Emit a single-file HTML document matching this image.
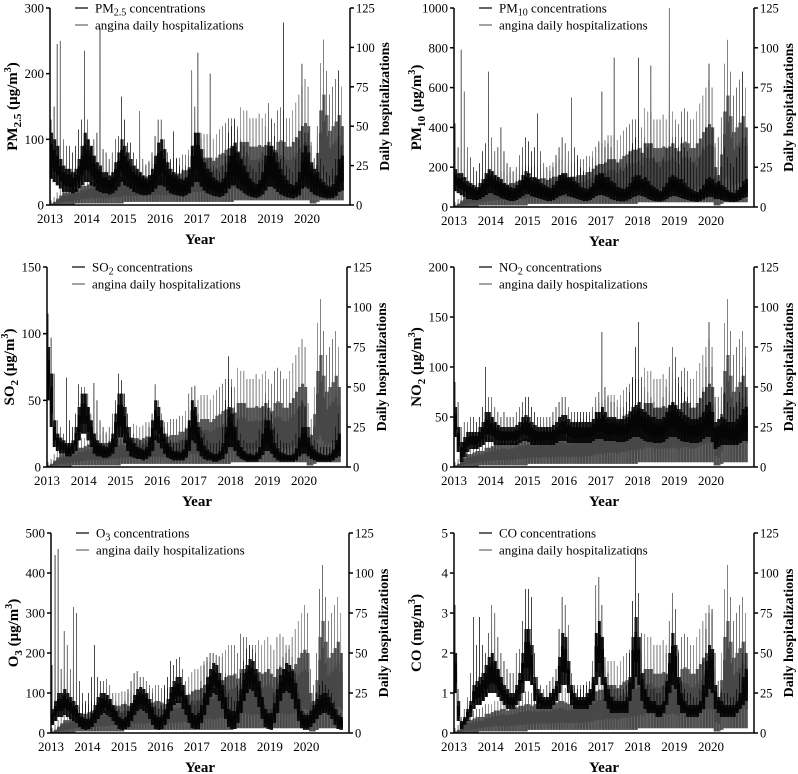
<!DOCTYPE html>
<html><head><meta charset="utf-8"><style>
body{margin:0;background:#fff;}
svg{display:block;font-family:"Liberation Serif",serif;}
</style></head><body>
<svg id="c" width="798" height="774" viewBox="0 0 798 774"></svg>
<script>
const years=["2013","2014","2015","2016","2017","2018","2019","2020"];
const hospTicks=[0,25,50,75,100,125];
// angina daily hospitalizations (monthly envelope: peak, typical upper, low)
const hospHi=[3,5,8,10,12,12,14,15,15,16,18,18, 18,20,20,22,22,20,22,22,24,25,25,26, 26,25,26,25,27,26,25,26,28,28,30,30, 28,27,28,28,30,30,30,32,32,35,38,40, 40,42,45,45,45,42,45,48,50,52,55,55, 55,50,62,60,60,55,55,55,58,55,58,60, 55,52,60,62,60,55,55,60,65,70,75,80, 75,40,30,50,90,105,85,70,75,80,85,75];
const hospTyp=[1,2,4,6,8,8,9,10,10,10,12,12, 13,14,14,15,15,14,15,15,16,17,17,18, 18,17,18,17,18,18,17,18,19,19,20,20, 19,18,19,19,20,20,20,22,22,24,26,27, 27,28,30,30,30,28,30,32,33,35,36,36, 37,34,40,40,40,37,37,37,38,37,38,40, 37,35,40,41,40,37,37,40,43,47,50,52, 50,25,20,33,60,70,57,47,50,53,57,50];
const hospLo=[0,0,0,0,0,0,0,0,1,1,1,1, 1,1,1,1,1,1,1,1,1,1,1,1, 2,2,2,2,2,2,2,2,2,2,2,2, 2,2,2,2,2,2,2,2,2,2,2,2, 2,2,2,2,2,2,2,2,2,2,2,2, 3,3,3,3,3,3,3,3,3,3,3,3, 3,3,3,3,3,3,3,3,3,3,3,3, 3,1,1,2,3,3,3,3,3,3,3,3];
// PM2.5
const pm25Hi=[130,150,245,250,100,90,90,80,90,115,130,235, 130,90,100,110,270,85,80,70,80,100,105,165, 130,95,95,80,70,143,70,60,65,80,105,130, 130,100,80,70,112,70,60,55,60,75,205,150, 232,110,85,70,200,60,55,50,60,75,110,120, 130,115,100,90,80,60,55,50,65,80,120,155, 130,105,80,70,278,60,55,50,70,100,215,110, 110,90,70,120,70,60,50,45,55,70,205,90];
const pm25Typ=[110,100,90,70,60,55,55,50,55,70,90,110, 100,90,75,65,60,50,50,45,50,65,80,100, 90,80,70,60,55,50,45,40,45,55,75,95, 100,85,65,55,50,45,40,38,42,55,90,110, 110,85,65,55,50,42,38,35,40,50,75,90, 95,80,70,60,50,40,35,32,38,50,75,90, 90,80,65,55,45,38,32,30,35,50,80,90, 80,65,55,50,40,35,30,28,32,45,70,75];
const pm25Lo=[40,35,30,25,20,20,20,18,20,25,30,35, 35,30,28,22,20,18,18,16,18,22,28,35, 30,28,25,20,18,16,15,15,16,20,25,30, 30,28,22,18,16,15,14,13,15,18,28,35, 35,28,22,18,16,14,13,12,14,18,25,30, 30,25,22,18,15,13,12,11,13,16,22,28, 28,25,20,16,14,12,11,10,12,15,25,28, 25,20,16,14,12,11,10,10,11,14,20,22];
// PM10
const pm10Hi=[420,300,790,580,300,250,200,180,220,280,320,680, 350,280,300,400,280,220,200,180,200,260,300,350, 330,280,300,470,280,220,200,180,200,260,300,350, 320,280,550,300,260,200,180,170,200,250,300,330, 580,300,320,300,750,220,200,180,220,280,320,350, 750,300,350,300,710,250,220,200,250,300,1000,350, 350,300,350,300,280,250,220,200,250,300,400,720, 400,300,350,450,300,250,220,200,250,300,680,350];
const pm10Typ=[190,170,170,150,130,120,110,100,120,140,170,190, 180,160,150,140,120,110,100,95,110,130,160,180, 170,150,150,140,120,110,100,95,110,130,160,170, 170,150,150,130,120,100,95,90,100,120,160,170, 170,150,150,130,120,100,95,90,100,120,150,160, 160,140,150,130,110,100,90,80,100,120,150,160, 150,140,140,120,100,90,80,75,90,110,140,150, 140,120,130,110,100,85,75,70,85,100,130,140];
const pm10Lo=[80,70,60,50,40,40,35,35,40,50,60,70, 70,60,55,45,40,35,30,30,35,45,55,65, 65,55,50,45,40,35,30,30,35,45,55,60, 65,55,50,45,40,35,30,30,35,45,55,60, 60,55,50,40,35,30,28,28,32,40,50,55, 60,55,50,40,35,30,28,28,32,40,50,55, 55,50,45,40,35,30,28,26,30,38,48,52, 50,40,40,35,30,28,25,25,28,35,45,50];
// SO2
const so2Hi=[115,97,70,35,30,25,67,35,30,40,62,60, 60,55,40,63,50,35,30,25,30,40,50,70, 65,55,40,30,25,20,20,18,20,30,40,62, 50,40,30,25,20,18,18,18,20,30,55,60, 61,40,30,25,20,18,18,18,20,30,50,83, 60,45,35,25,20,18,18,18,20,28,45,55, 50,40,30,25,20,18,18,18,20,25,45,50, 45,30,25,20,18,15,15,15,15,20,30,40];
const so2Typ=[90,70,35,25,22,20,18,18,20,30,45,55, 55,45,35,25,20,18,16,15,18,25,40,55, 55,45,30,22,18,15,14,13,15,22,35,50, 45,35,25,18,15,12,12,11,13,20,35,50, 45,30,22,16,13,11,10,10,12,18,30,45, 40,30,20,15,12,10,10,9,11,15,25,35, 35,28,18,14,11,10,9,9,10,14,22,30, 30,22,16,13,11,10,9,9,10,13,20,25];
const so2Lo=[50,30,15,12,10,10,8,8,10,12,20,25, 25,20,15,10,8,8,7,7,8,10,15,22, 22,18,12,8,7,6,6,5,6,8,12,20, 18,14,10,7,6,5,5,5,5,7,12,20, 18,12,8,6,5,5,4,4,5,6,10,15, 15,12,8,6,5,4,4,4,4,6,9,12, 12,10,7,5,4,4,4,4,4,5,8,10, 10,8,6,5,4,4,4,4,4,5,7,8];
// NO2
const no2Hi=[85,65,40,45,45,50,50,45,50,60,100,70, 70,60,55,50,55,50,50,50,55,60,65,70, 70,60,55,50,50,50,50,50,55,60,65,70, 70,60,55,55,55,55,55,55,55,60,70,75, 135,80,70,65,65,60,60,60,65,75,90,120, 145,90,80,75,70,65,60,60,70,80,100,120, 110,90,80,75,70,65,60,60,70,80,100,145, 100,70,70,80,75,65,60,60,65,75,100,110];
const no2Typ=[60,40,25,30,35,35,35,35,40,45,55,55, 50,45,42,40,40,40,40,40,42,45,50,52, 50,45,42,40,40,40,40,40,42,45,50,52, 52,48,45,45,45,45,45,45,45,48,55,55, 60,55,50,50,50,48,48,48,50,55,60,62, 65,58,55,52,50,50,48,48,50,55,62,65, 62,58,55,52,50,48,48,48,50,55,62,65, 55,45,48,50,48,45,45,45,48,52,58,60];
const no2Lo=[30,15,5,10,15,18,18,18,20,22,25,25, 25,22,22,22,22,22,22,22,22,24,26,26, 25,22,22,22,22,22,22,22,22,24,26,26, 26,24,24,24,24,24,24,24,24,26,28,28, 28,26,26,26,26,25,25,25,26,28,30,30, 30,28,26,25,25,24,24,24,25,28,30,30, 30,28,26,25,25,24,24,24,25,28,30,30, 25,18,20,22,22,22,22,22,22,24,26,26];
// O3
const o3Hi=[170,445,460,160,255,220,160,315,300,130,100,80, 100,140,220,140,130,130,135,120,100,80,60,50, 80,110,130,150,155,140,140,130,120,100,70,60, 70,120,140,180,170,185,190,160,130,100,80,70, 80,130,170,190,200,200,195,190,190,150,100,90, 80,120,150,180,210,220,210,200,150,110,70,60, 60,100,140,170,190,200,210,190,150,100,60,50, 50,60,80,100,120,130,120,110,100,80,60,50];
const o3Typ=[60,80,100,100,110,100,90,80,70,50,40,35, 35,50,70,90,100,100,95,85,70,55,40,35, 40,55,75,95,110,115,110,100,85,65,45,40, 45,60,85,115,130,140,140,120,95,70,50,45, 50,70,100,140,160,175,170,150,120,90,60,55, 55,80,110,150,170,185,180,160,130,90,60,50, 50,75,110,145,160,175,170,155,125,85,55,45, 45,55,70,85,95,100,100,90,75,60,45,40];
const o3Lo=[20,30,40,40,45,40,35,30,25,15,10,8, 10,15,25,35,45,50,45,40,30,20,10,8, 10,15,30,45,55,60,55,50,35,20,10,8, 10,20,35,55,70,75,75,60,45,25,12,10, 10,25,45,70,90,100,95,80,60,35,15,10, 10,25,50,80,100,110,105,90,65,35,15,10, 8,25,50,80,100,105,100,85,60,30,12,8, 8,15,25,35,45,50,50,45,35,20,10,8];
// CO
const coHi=[3.2,1.1,0.4,0.6,0.9,1.5,2.9,2.2,2.9,2.2,2.0,2.5, 3.2,3.0,2.4,2.0,1.8,1.6,1.5,1.5,2.0,2.1,2.8,3.6, 3.6,3.4,2.0,1.4,1.2,1.1,1.2,1.3,1.4,1.6,2.6,3.4, 3.2,2.7,1.5,1.2,1.1,1.1,1.2,1.2,1.3,1.8,3.7,3.9, 3.2,1.9,1.5,1.2,1.1,1.1,1.1,1.1,1.2,2.0,3.3,4.65, 3.5,2.5,1.5,1.2,1.1,1.1,1.0,1.0,1.2,2.0,2.8,3.5, 3.1,2.0,1.3,1.1,1.0,1.0,0.9,0.9,1.1,1.8,2.6,3.0, 3.1,2.0,1.3,1.1,1.0,1.0,0.9,0.9,1.1,1.5,2.0,2.3];
const coTyp=[2.0,0.8,0.3,0.4,0.6,0.8,1.2,1.3,1.4,1.5,1.7,1.9, 2.0,1.8,1.6,1.4,1.2,1.1,1.0,1.0,1.2,1.5,2.0,2.6, 2.6,2.2,1.4,1.1,1.0,0.9,0.9,1.0,1.1,1.3,1.9,2.5, 2.4,1.8,1.2,1.0,0.9,0.9,0.9,1.0,1.1,1.4,2.5,2.8, 2.4,1.4,1.1,0.9,0.8,0.8,0.8,0.8,0.9,1.4,2.4,2.9, 2.4,1.5,1.1,0.9,0.8,0.8,0.7,0.7,0.8,1.3,2.0,2.5, 2.2,1.4,1.0,0.8,0.7,0.7,0.7,0.7,0.8,1.2,1.8,2.2, 2.1,1.2,0.9,0.8,0.7,0.7,0.7,0.7,0.8,1.0,1.4,1.6];
const coLo=[1.0,0.3,0.1,0.2,0.3,0.4,0.6,0.7,0.7,0.8,0.9,1.0, 1.0,1.0,0.9,0.8,0.7,0.6,0.6,0.6,0.7,0.8,1.0,1.3, 1.3,1.2,0.8,0.6,0.6,0.6,0.6,0.6,0.7,0.8,1.0,1.2, 1.2,1.0,0.7,0.6,0.6,0.6,0.6,0.6,0.7,0.8,1.2,1.4, 1.2,0.8,0.6,0.5,0.5,0.5,0.5,0.5,0.5,0.8,1.1,1.4, 1.2,0.8,0.6,0.5,0.5,0.5,0.4,0.4,0.5,0.7,1.0,1.2, 1.1,0.7,0.5,0.5,0.4,0.4,0.4,0.4,0.5,0.6,0.9,1.1, 1.0,0.6,0.5,0.4,0.4,0.4,0.4,0.4,0.5,0.6,0.7,0.8];

const panels=[
 {id:"pm25",L:50,R:350,T:8,B:205,max:300,ticks:[0,100,200,300],name:"PM",sub:"2.5",unit:" (μg/m",sup:"3",hi:pm25Hi,typ:pm25Typ,lo:pm25Lo},
 {id:"pm10",L:454,R:754,T:8,B:207,max:1000,ticks:[0,200,400,600,800,1000],name:"PM",sub:"10",unit:" (μg/m",sup:"3",hi:pm10Hi,typ:pm10Typ,lo:pm10Lo},
 {id:"so2",L:47,R:347,T:267,B:467,max:150,ticks:[0,50,100,150],name:"SO",sub:"2",unit:" (μg/m",sup:"3",hi:so2Hi,typ:so2Typ,lo:so2Lo},
 {id:"no2",L:454,R:754,T:267,B:467,max:200,ticks:[0,50,100,150,200],name:"NO",sub:"2",unit:" (μg/m",sup:"3",hi:no2Hi,typ:no2Typ,lo:no2Lo},
 {id:"o3",L:51,R:349,T:533,B:733,max:500,ticks:[0,100,200,300,400,500],name:"O",sub:"3",unit:" (μg/m",sup:"3",hi:o3Hi,typ:o3Typ,lo:o3Lo},
 {id:"co",L:454,R:754,T:533,B:733,max:5,ticks:[0,1,2,3,4,5],name:"CO",sub:"",unit:" (mg/m",sup:"3",hi:coHi,typ:coTyp,lo:coLo}
];
const NS="http://www.w3.org/2000/svg";
const svg=document.getElementById('c');
function mk(tag,attrs,parent){const e=document.createElementNS(NS,tag);for(const k in attrs)e.setAttribute(k,attrs[k]);(parent||svg).appendChild(e);return e;}
function zig(hi,typ,lo,xf,yf){
 let pts=[];
 for(let i=0;i<hi.length;i++){
  const h=hi[i],t=typ[i],l=lo[i],m=(t+l)/2,q=(t+3*l)/4,r=(3*t+l)/4;
  const seq=[l,r,q,t,m,l,r,q,h,m,l,t,q,r,l,m,t,q,l,r,m,q,t,l];
  for(let j=0;j<seq.length;j++){pts.push(xf(i+j/seq.length).toFixed(2)+","+yf(seq[j]).toFixed(2));}
 }
 return pts.join(" ");
}
panels.forEach(p=>{
 const g=mk('g',{});
 
 
 const yw=(p.R-p.L)/8.17;
 const xf=m=>p.L+m/12*yw;
 const yL=v=>p.B-v/p.max*(p.B-p.T);
 const yR=v=>p.B-v/125*(p.B-p.T);
 const hl=mk('polyline',{points:zig(hospHi,hospTyp,hospLo,xf,yR),fill:'none',stroke:'#474747','stroke-width':0.5},g);
 
 
 const pl=mk('polyline',{points:zig(p.hi,p.typ,p.lo,xf,yL),fill:'none',stroke:'#050505','stroke-width':0.5},g);
 
 
 mk('line',{x1:p.L,y1:p.T,x2:p.L,y2:p.B,stroke:'#000','stroke-width':1.5},g);
 mk('line',{x1:p.R,y1:p.T,x2:p.R,y2:p.B,stroke:'#000','stroke-width':1.5},g);
 mk('line',{x1:p.L,y1:p.B,x2:p.R,y2:p.B,stroke:'#000','stroke-width':1.5},g);
 p.ticks.forEach(v=>{
  const y=yL(v);
  mk('line',{x1:p.L-4,y1:y,x2:p.L,y2:y,stroke:'#000','stroke-width':1.5},g);
  const t=mk('text',{x:p.L-6,y:y+4.5,'text-anchor':'end','font-size':13},g);
  t.textContent=v;
  
  
 });
 hospTicks.forEach(v=>{
  const y=yR(v);
  mk('line',{x1:p.R,y1:y,x2:p.R+4,y2:y,stroke:'#000','stroke-width':1.5},g);
  const t=mk('text',{x:p.R+6,y:y+4.5,'font-size':12.5},g);
  t.textContent=v;
  
  
 });
 years.forEach((yr,i)=>{
  const t=mk('text',{x:xf(i*12),y:p.B+18,'text-anchor':'middle','font-size':13},g);
  t.textContent=yr;
  
  
 });
 const xt=mk('text',{x:(p.L+p.R)/2,y:p.B+39,'text-anchor':'middle','font-size':15,'font-weight':'bold'},g);
 xt.textContent='Year';
 
 
 const cy=(p.T+p.B)/2;
 const yt=mk('text',{x:0,y:0,'text-anchor':'middle','font-size':15,'font-weight':'bold',transform:`translate(${p.L-33},${cy}) rotate(-90)`},g);
 yt.innerHTML=p.name+(p.sub?`<tspan font-size="11" dy="4">${p.sub}</tspan><tspan dy="-4">${p.unit}</tspan>`:`<tspan>${p.unit}</tspan>`)+`<tspan font-size="10" dy="-6">${p.sup}</tspan><tspan dy="6">)</tspan>`;
 
 
 const rt=mk('text',{x:0,y:0,'text-anchor':'middle','font-size':14,'font-weight':'bold',transform:`translate(${p.R+39},${cy}) rotate(-90)`},g);
 rt.textContent='Daily hospitalizations';
 
 
 const lg=mk('g',{},g);
 
 
 mk('line',{x1:p.L+25,y1:p.T,x2:p.L+38,y2:p.T,stroke:'#000','stroke-width':1.2},lg);
 const l1=mk('text',{x:p.L+45,y:p.T+4.5,'font-size':13},lg);
 l1.innerHTML=p.name+(p.sub?`<tspan font-size="10" dy="3">${p.sub}</tspan><tspan dy="-3"> concentrations</tspan>`:' concentrations');
 
 
 mk('line',{x1:p.L+25,y1:p.T+17,x2:p.L+38,y2:p.T+17,stroke:'#666','stroke-width':1.2},lg);
 const l2=mk('text',{x:p.L+45,y:p.T+21.5,'font-size':13},lg);
 l2.textContent='angina daily hospitalizations';
 
 
});
</script>
</body></html>
